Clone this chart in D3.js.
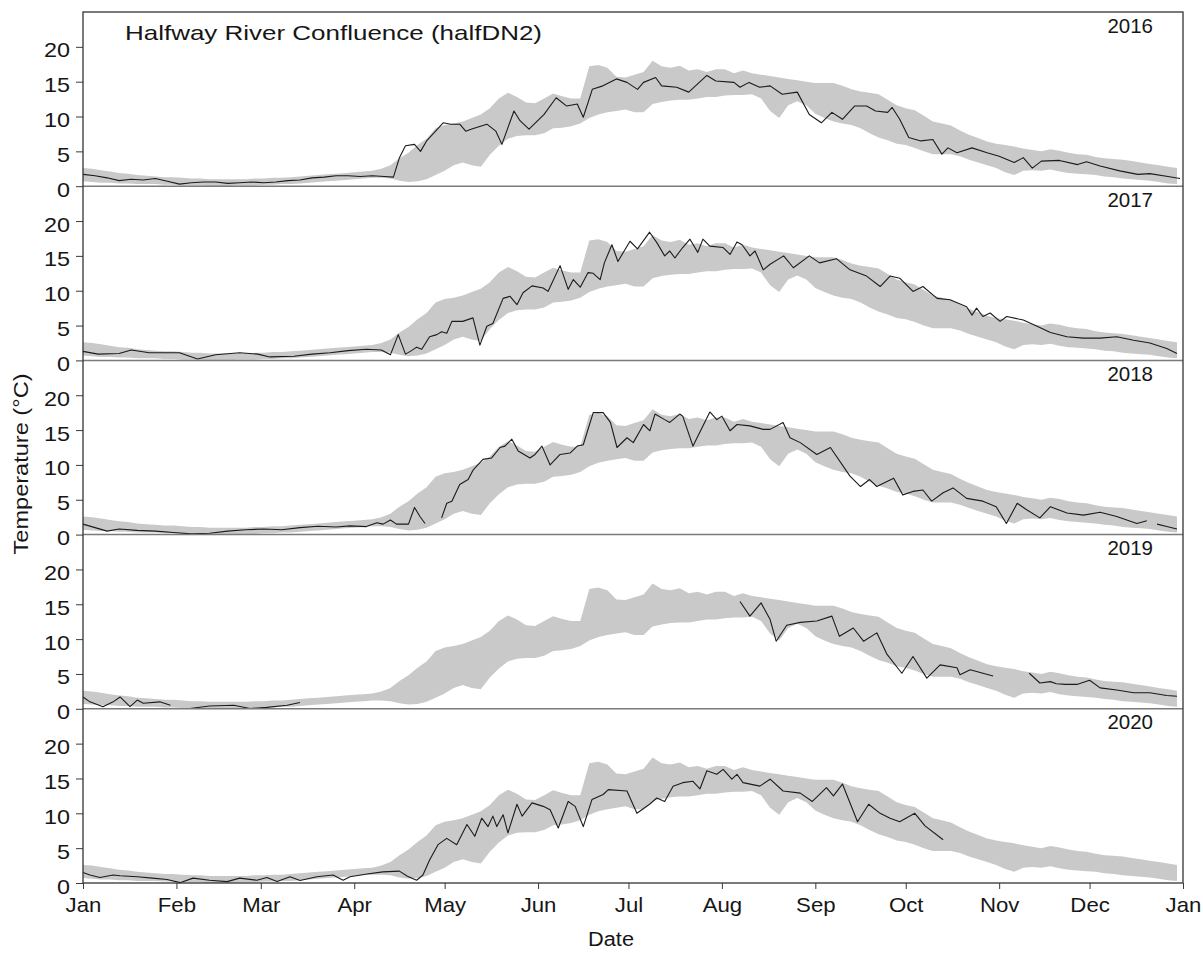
<!DOCTYPE html>
<html><head><meta charset="utf-8">
<script src="https://cdn.jsdelivr.net/npm/d3@7"></script>
<style>
body{margin:0;background:#fff}
svg{display:block}
text{font-family:Arial,"Liberation Sans",sans-serif;fill:#161616}
</style>
</head><body>
<svg id="chart" width="1203" height="953"></svg>
<script>
// ---------- data ----------
const years = ["2016","2017","2018","2019","2020"];
const yTickValues = [0,5,10,15,20];
const titleText = "Halfway River Confluence (halfDN2)";

// historical band (day-of-year grid, every 3 days from Jan 1)
const bandDays = d3.range(0, 364, 3);
const bandLow = [
0.7,0.6,0.5,0.5,0.4,0.4,0.3,0.3,0.3,0.2,
0.2,0.1,0.1,0.1,0.0,0.0,0.0,0.1,0.1,0.1,
0.2,0.2,0.3,0.3,0.4,0.5,0.6,0.7,0.8,0.9,
1.0,1.1,1.2,1.2,1.1,0.8,0.6,0.7,1.0,1.6,
2.2,3.0,3.4,3.0,2.8,4.5,5.8,6.8,7.2,7.3,
7.3,7.6,8.3,8.4,8.6,9.0,9.8,10.3,10.6,10.8,
11.0,10.6,10.6,11.8,12.1,12.3,12.4,12.4,12.6,12.8,
12.8,13.0,13.1,13.1,13.2,12.6,10.8,9.8,11.6,12.2,
11.6,10.4,9.8,9.3,9.0,8.8,8.3,7.6,7.0,6.6,
6.1,5.9,5.5,5.0,4.6,4.6,4.6,4.3,3.8,3.4,
3.0,2.6,2.0,1.6,2.2,2.3,2.2,2.4,2.1,1.9,
1.8,1.7,1.6,1.4,1.3,1.1,1.0,0.9,0.8,0.6,
0.4,0.3];
const bandHigh = [
2.6,2.5,2.3,2.1,1.9,1.8,1.6,1.5,1.4,1.3,
1.3,1.2,1.1,1.1,1.0,1.0,1.0,1.0,1.0,1.1,
1.1,1.2,1.2,1.3,1.4,1.5,1.6,1.7,1.8,1.9,
2.0,2.1,2.2,2.5,3.0,4.0,4.8,5.9,6.8,8.3,
8.8,9.0,9.3,9.8,10.3,11.2,12.6,13.4,12.8,12.0,
11.9,12.6,13.3,12.9,12.6,12.6,17.2,17.4,17.0,15.7,
15.6,16.0,16.4,18.0,17.2,17.0,17.3,16.6,16.8,16.4,
16.8,16.8,16.2,16.6,16.2,16.0,15.8,15.6,15.4,15.2,
15.0,14.8,14.8,14.8,14.4,13.9,13.6,13.4,13.2,12.4,
11.6,11.2,10.9,10.1,9.3,9.0,8.7,8.0,7.4,6.9,
6.4,6.1,5.9,5.7,5.4,5.2,5.0,5.3,5.1,4.8,
4.6,4.5,4.2,4.0,3.9,3.8,3.6,3.4,3.2,3.0,
2.8,2.6];

// observed daily temperature per year: [day-of-year, °C]; null = gap
const obs2016 = [[0,1.7],[4,1.5],[8,1.2],[12,0.8],[16,1.0],[20,0.9],[24,1.1],[28,0.7],[32,0.3],[36,0.5],[40,0.6],[44,0.6],[48,0.4],[52,0.5],[56,0.6],[60,0.5],[64,0.6],[68,0.8],[72,0.9],[76,1.2],[80,1.3],[84,1.5],[88,1.5],[92,1.4],[96,1.5],[100,1.4],[103,1.3],[105,4.1],[107,5.8],[110,6.0],[112,5.0],[114,6.5],[117,7.9],[119.5,9.1],[122,8.9],[125,8.9],[127,7.9],[129,8.2],[134,8.9],[137,7.9],[139,6.0],[143,10.8],[145,9.4],[148,8.2],[153,10.3],[157,12.7],[160.5,11.5],[164,11.8],[166,9.9],[169,13.9],[172.5,14.4],[177,15.4],[180.5,14.9],[184,13.9],[186,14.9],[190,15.6],[192,14.4],[197,14.2],[201,13.5],[207,15.9],[210,15.1],[216,14.9],[218,14.2],[221,14.9],[224.5,14.2],[228,14.4],[232,13.2],[237,13.5],[241,10.3],[245,9.1],[248.5,10.6],[252,9.6],[256,11.5],[260,11.5],[263,10.8],[267,10.6],[268.5,11.3],[271,9.6],[274,7.0],[278,6.5],[282,6.7],[285,4.6],[287,5.5],[290,4.8],[295,5.5],[300,4.8],[304,4.3],[309,3.4],[312,4.1],[315,2.6],[316.5,3.1],[318,3.6],[324,3.7],[330,3.1],[333,3.5],[337.5,2.9],[344,2.2],[350,1.7],[354,1.8],[360,1.4],[364,1.1]];
const obs2017 = [[0,1.3],[5,0.9],[12,1.0],[16,1.5],[22,1.1],[32,1.1],[38,0.2],[44,0.8],[52,1.1],[58,0.9],[62,0.5],[70,0.6],[76,0.9],[82,1.1],[88,1.4],[94,1.6],[99,1.5],[102,0.8],[104.6,3.7],[107,0.9],[109,1.4],[110.7,1.9],[112.4,1.6],[115,3.4],[117.4,3.7],[119,4.1],[120.7,3.9],[122.4,5.6],[126,5.6],[129.4,6.1],[131.7,2.2],[134,4.9],[136,5.3],[139.4,8.9],[141.7,9.2],[144,8.0],[146,9.7],[149,10.7],[152.7,10.4],[154.3,9.9],[158.3,13.6],[161,10.2],[162.7,11.6],[165,10.5],[167.6,12.6],[169.3,12.5],[171.6,11.6],[173,14.0],[175.5,16.6],[177.5,14.2],[181.5,17.1],[184,16.0],[188,18.4],[190.4,16.9],[193,15.0],[194.7,15.7],[196.4,14.7],[199,16.2],[201.4,17.4],[204,15.5],[205.7,17.4],[208,16.4],[212.4,16.2],[214.7,15.2],[217,17.0],[218.7,16.6],[221.3,15.0],[223,15.7],[225.7,13.0],[228,13.8],[232.5,15.0],[235.7,13.3],[241,15.0],[244.4,14.0],[250,14.6],[254.5,13.0],[260,12.1],[264.5,10.6],[267.8,12.1],[271,11.8],[275.4,9.9],[278.7,10.6],[283.4,8.9],[287.7,8.7],[293.2,7.7],[295,6.5],[296.5,7.5],[298.6,6.3],[301,6.8],[304.3,5.6],[306.5,6.3],[312,5.8],[316.6,4.9],[321,4.0],[326.5,3.4],[332,3.2],[337.5,3.2],[343,3.4],[348.6,2.9],[354,2.5],[359.6,1.7],[363,1.0]];
const obs2018 = [[0,1.5],[4,1.0],[8,0.5],[12,0.8],[18,0.6],[24,0.5],[30,0.3],[36,0.1],[42,0.2],[48,0.5],[54,0.7],[60,0.8],[66,0.7],[72,1.0],[78,1.2],[84,1.1],[88.6,1.25],[94,1.15],[97.5,1.7],[99.6,1.5],[102,2.1],[104,1.5],[108,1.5],[110,3.9],[111.8,2.6],[113.5,1.6],[115,null],[119,2.4],[120.7,4.5],[122.4,4.8],[125,7.2],[127.8,7.9],[129.5,9.3],[132.7,10.8],[135.6,11.0],[138.4,12.5],[140,12.7],[142.3,13.7],[144.4,12.0],[148.3,11.0],[150,11.5],[152.3,12.7],[155,10.0],[158.3,11.5],[161.6,11.7],[164,12.7],[166,12.9],[169.3,17.5],[172.6,17.5],[175,16.1],[177.2,12.5],[180.5,13.9],[182.6,13.2],[186,15.8],[188.1,14.9],[189.8,17.3],[193,16.5],[194.7,16.1],[198,17.3],[199,17.0],[202.4,12.7],[208,17.6],[210.3,16.5],[212,17.0],[214.7,14.9],[217,15.8],[221.3,15.6],[225.7,15.1],[228,15.1],[232.3,16.1],[234.6,13.9],[238,13.2],[243.5,11.5],[248,12.5],[254.5,8.4],[258,6.9],[261,7.9],[263.4,6.9],[269,8.1],[272,5.7],[275.4,6.2],[278.7,6.4],[281.6,4.8],[285.4,6.0],[288.7,6.7],[293.2,5.2],[298.6,4.8],[303,4.0],[306.4,1.6],[310,4.5],[313,3.6],[317.5,2.4],[321,4.0],[326.5,3.1],[332,2.8],[337.5,3.2],[343,2.6],[349.7,1.6],[353,2.0],[354.5,null],[356.4,1.5],[359.6,1.15],[363,0.8]];
const obs2019 = [[0,1.7],[2.3,1.0],[6.6,0.3],[10,1.0],[12.3,1.7],[15.6,0.3],[18,1.25],[20,0.8],[25.5,1.0],[29,0.5],[31,null],[35.5,0.05],[42,0.4],[50,0.5],[55.4,0.05],[61,0.2],[67.7,0.5],[72,0.9],[73,null],[218,15.4],[221.3,13.3],[225,15.2],[228,12.8],[230,9.7],[233.5,12.0],[238,12.4],[243.5,12.6],[248.5,13.3],[251,10.4],[255.6,11.6],[259,9.7],[263.4,10.9],[266.8,7.8],[271.7,5.1],[275.4,7.5],[280,4.4],[284.4,6.3],[290,5.9],[291,4.9],[294.4,5.6],[298.6,5.1],[302,4.7],[305,null],[314,5.1],[317.5,3.7],[321,3.9],[323,3.6],[326,3.5],[329.8,3.5],[334,4.1],[337.5,3.0],[343,2.7],[348.6,2.3],[354,2.3],[359.6,1.9],[363,1.8]];
const obs2020 = [[0,1.5],[2.3,1.15],[5.6,0.8],[10,1.15],[12.3,1.05],[18,0.9],[23,0.7],[27.9,0.5],[32.2,0.05],[36.5,0.7],[42,0.4],[47.8,0.2],[52,0.7],[57.7,0.4],[61,0.8],[64.4,0.2],[68.7,0.9],[72,0.35],[77.6,0.9],[83,1.15],[86.3,0.4],[88.6,0.9],[94.2,1.3],[99.5,1.6],[105,1.7],[107.5,1.0],[110.7,0.4],[112.8,1.15],[115,3.3],[117.8,5.5],[120.7,6.4],[124,5.5],[127.4,8.4],[130,6.7],[132.3,9.3],[134.4,8.1],[136,9.6],[137.3,8.1],[139.4,9.8],[141,7.2],[144,11.3],[145.7,9.6],[149,11.5],[152.7,11.0],[155,10.5],[157.7,7.9],[161,11.7],[163.3,11.0],[166,8.1],[168.9,12.0],[172.6,12.7],[174.3,13.4],[180.5,13.2],[183.8,10.0],[188,11.3],[190.4,12.2],[193,11.7],[195.8,13.9],[199,14.4],[202.4,14.6],[204.7,13.5],[207,16.1],[210.3,15.6],[212.4,16.3],[215.3,14.9],[217,15.6],[219,14.4],[224.6,13.9],[228,14.9],[232.3,13.2],[238,12.9],[242,11.7],[246.7,13.7],[249,12.5],[252,14.2],[257,8.8],[260.7,11.3],[264.5,10.0],[267.8,9.3],[271,8.8],[276,10.0],[279.4,8.2],[285.4,6.2]];
const observed = [obs2016, obs2017, obs2018, obs2019, obs2020];

// ---------- layout ----------
const plotL = 83, plotR = 1183, plotT = 12, plotB = 883;
const nP = years.length;
const ph = (plotB - plotT) / nP;
const t0 = Date.UTC(2017,0,1), t1 = Date.UTC(2018,0,1);
const dayDate = d => new Date(t0 + d * 864e5);
const FONT = 'Arial,"Liberation Sans",sans-serif';

const svg = d3.select("#chart");
const x = d3.scaleUtc().domain([t0, t1]).range([plotL, plotR]);

const band = bandDays.map((d,i) => ({day:d, lo:bandLow[i], hi:bandHigh[i]}));

years.forEach((yr, i) => {
  const pTop = plotT + i * ph;
  const y = d3.scaleLinear().domain([0,25]).range([pTop + ph, pTop]);
  const g = svg.append("g");

  g.append("path")
    .datum(band)
    .attr("fill", "#c9c9c9")
    .attr("d", d3.area()
      .x(d => x(dayDate(d.day)))
      .y0(d => y(d.lo))
      .y1(d => y(d.hi)));

  g.append("path")
    .datum(observed[i])
    .attr("fill", "none")
    .attr("stroke", "#1b1b1b")
    .attr("stroke-width", 1.1)
    .attr("stroke-linejoin", "round")
    .attr("d", d3.line()
      .defined(d => d[1] != null)
      .x(d => x(dayDate(d[0])))
      .y(d => y(d[1])));

  // y axis
  const ax = svg.append("g")
    .attr("transform", `translate(${plotL},0)`)
    .call(d3.axisLeft(y).tickValues(yTickValues).tickSize(7).tickPadding(4))
    .attr("font-size", 20)
    .attr("font-family", FONT)
    .attr("color", "#3a3a3a");
  ax.select(".domain").remove();
  ax.selectAll("text").attr("fill", "#161616").attr("dy", "0.5em")
    .attr("x", -11.2).attr("transform", "scale(1.17,1)");

  // year label
  svg.append("text")
    .attr("x", 1153).attr("y", pTop + 20.5)
    .attr("text-anchor", "end")
    .attr("font-size", 20.5)
    .text(yr);

  // separator
  if (i > 0) {
    svg.append("line")
      .attr("x1", plotL).attr("x2", plotR)
      .attr("y1", pTop).attr("y2", pTop)
      .attr("stroke", "#7a7a7a").attr("stroke-width", 1.5);
  }
});

// frame
svg.append("rect")
  .attr("x", plotL).attr("y", plotT)
  .attr("width", plotR - plotL).attr("height", plotB - plotT)
  .attr("fill", "none").attr("stroke", "#333").attr("stroke-width", 1.3);

// x axis
const xa = svg.append("g")
  .attr("transform", `translate(0,${plotB})`)
  .call(d3.axisBottom(x).ticks(d3.utcMonth.every(1)).tickFormat(d3.utcFormat("%b")).tickSize(6).tickPadding(9))
  .attr("font-size", 20)
  .attr("font-family", FONT)
  .attr("color", "#3a3a3a");
xa.select(".domain").remove();
xa.selectAll(".tick text").attr("fill", "#161616").attr("transform", "scale(1.11,1)");

// title
svg.append("text")
  .attr("x", 125).attr("y", 40)
  .attr("font-size", 21)
  .attr("textLength", 417).attr("lengthAdjust", "spacingAndGlyphs")
  .text(titleText);

// axis titles
svg.append("text")
  .attr("x", 611).attr("y", 946)
  .attr("text-anchor", "middle")
  .attr("font-size", 20)
  .attr("textLength", 46).attr("lengthAdjust", "spacingAndGlyphs")
  .text("Date");

svg.append("text")
  .attr("transform", "translate(28,464) rotate(-90)")
  .attr("text-anchor", "middle")
  .attr("font-size", 20)
  .attr("textLength", 181).attr("lengthAdjust", "spacingAndGlyphs")
  .text("Temperature (°C)");
</script>
</body></html>
